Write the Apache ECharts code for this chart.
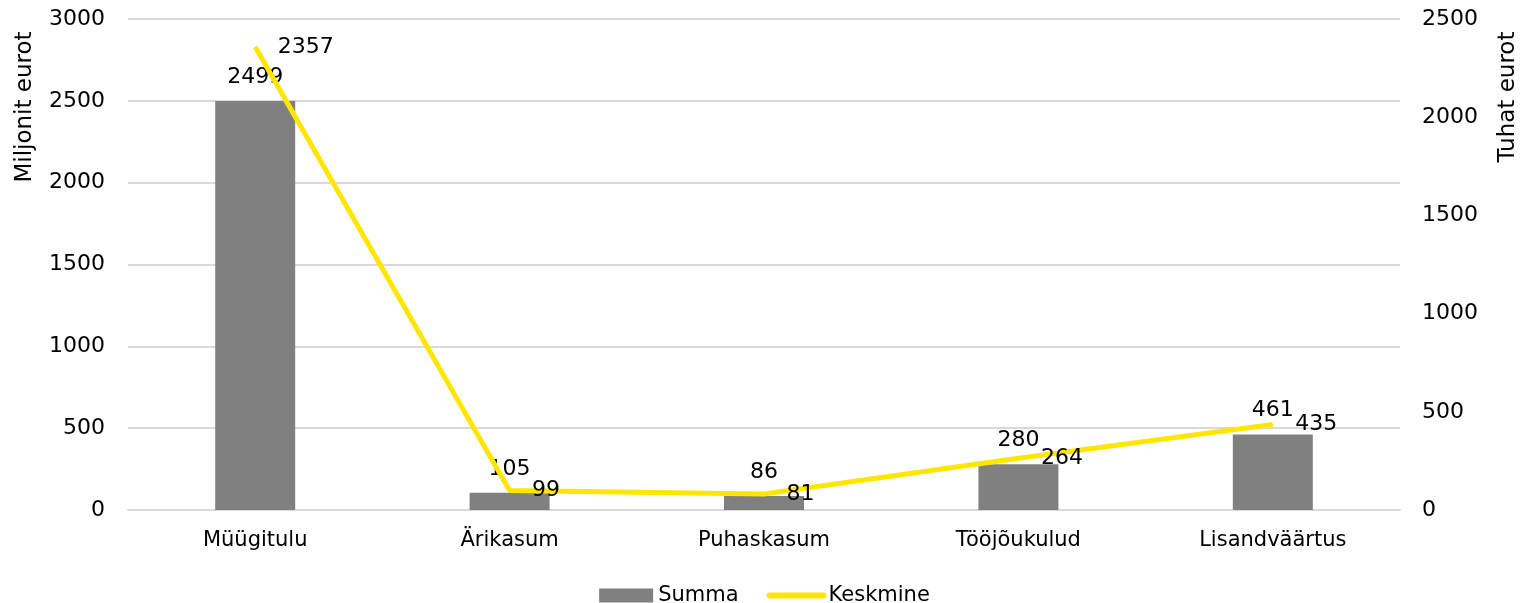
<!DOCTYPE html>
<html>
<head>
<meta charset="utf-8">
<script src="https://cdn.jsdelivr.net/npm/echarts@6/dist/echarts.min.js"></script>
<style>
  html, body { margin: 0; padding: 0; background: #fff; }
  #chart { width: 1529px; height: 603px; }
</style>
</head>
<body>
<div id="chart"></div>
<script>
// andmed
var categories = ['Müügitulu', 'Ärikasum', 'Puhaskasum', 'Tööjõukulud', 'Lisandväärtus'];
var summa = [2499, 105, 86, 280, 461];
var keskmine = [2357, 99, 81, 264, 435];

var font = 'DejaVu Sans, sans-serif';

var myChart = echarts.init(document.getElementById('chart'));
myChart.setOption({
    animation: false,
    textStyle: { fontFamily: font },
    grid: { left: 128, right: 129, top: 19, bottom: 93 },
    legend: {
        top: 580,
        left: 'center',
        itemGap: 28,
        itemWidth: 54,
        itemHeight: 14,
        textStyle: { fontSize: 21, color: '#000', fontFamily: font },
        data: [
            { name: 'Summa', icon: 'rect' },
            { name: 'Keskmine', itemStyle: { opacity: 0 }, lineStyle: { width: 6, cap: 'round', color: '#ffe600' } }
        ]
    },
    xAxis: {
        type: 'category',
        data: categories,
        axisLine: { lineStyle: { color: '#d9d9d9', width: 2 } },
        axisTick: { show: false },
        axisLabel: { color: '#000', fontSize: 21, margin: 20 }
    },
    yAxis: [
        {
            type: 'value',
            min: 0, max: 3000, interval: 500,
            axisLine: { show: false },
            axisTick: { show: false },
            axisLabel: { color: '#000', fontSize: 22, margin: 23, formatter: function (v) { return String(v); } },
            splitLine: { lineStyle: { color: '#d9d9d9', width: 2 } }
        },
        {
            type: 'value',
            min: 0, max: 2500, interval: 500,
            axisLine: { show: false },
            axisTick: { show: false },
            axisLabel: { color: '#000', fontSize: 22, margin: 22, formatter: function (v) { return String(v); } },
            splitLine: { show: false }
        }
    ],
    graphic: [
        {
            type: 'text', x: 14, y: 107, rotation: Math.PI / 2,
            style: { text: 'Miljonit eurot', font: '23px ' + font, fill: '#000', align: 'center', verticalAlign: 'top' }
        },
        {
            type: 'text', x: 1497, y: 97, rotation: Math.PI / 2,
            style: { text: 'Tuhat eurot', font: '23px ' + font, fill: '#000', align: 'center', verticalAlign: 'top' }
        }
    ],
    series: [
        {
            name: 'Summa',
            type: 'bar',
            yAxisIndex: 0,
            barWidth: 80,
            data: summa,
            itemStyle: { color: '#808080' },
            label: { show: true, position: 'top', color: '#000', fontSize: 22, distance: 13 }
        },
        {
            name: 'Keskmine',
            type: 'line',
            yAxisIndex: 1,
            data: keskmine,
            symbol: 'circle',
            symbolSize: 1,
            showSymbol: true,
            lineStyle: { color: '#ffe600', width: 5 },
            itemStyle: { color: '#ffe600' },
            label: { show: true, position: 'right', color: '#000', fontSize: 22, distance: 22 }
        }
    ]
});
</script>
</body>
</html>
